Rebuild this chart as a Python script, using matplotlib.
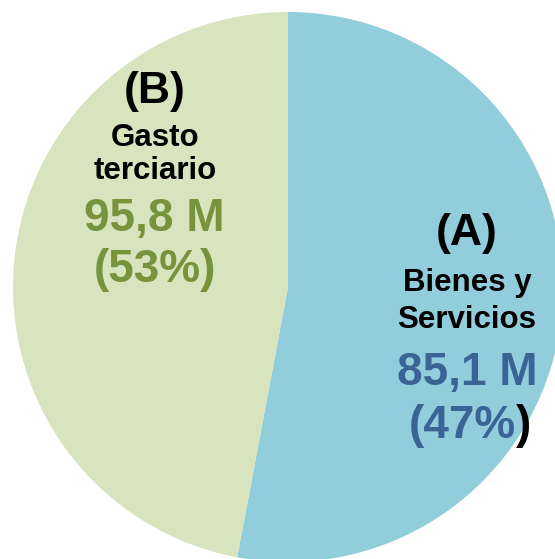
import matplotlib.pyplot as plt

# wedge values as drawn in the picture (blue wedge covers ~53%, green ~47%)
wedge_values = [95.8, 85.1]
wedge_colors = ["#92CDDC", "#D7E4BD"]

# label texts
a_title = "(A)"
a_name = ["Bienes y", "Servicios"]
a_value = "85,1 M"
a_pct = "(47%"
b_title = "(B)"
b_name = ["Gasto", "terciario"]
b_value = "95,8 M"
b_pct = "(53%)"

W, H = 555, 559
fig = plt.figure(figsize=(W / 100, H / 100), dpi=100)
ax = fig.add_axes([0, 0, 1, 1])

# pie centre and radius in pixel units
cx, cy, r = 288, H - 287, 275
ax.pie(wedge_values, colors=wedge_colors, startangle=90, counterclock=False,
       radius=r, center=(cx, cy), frame=True,
       wedgeprops=dict(linewidth=0))
ax.set_xlim(0, W)
ax.set_ylim(0, H)
ax.axis("off")

font = "Liberation Sans"
blue_txt = "#3A6496"
green_txt = "#77933C"


def put(x, y_img, s, size, color="black", ha="center"):
    ax.text(x, H - y_img, s, fontsize=size, fontweight="bold", color=color,
            family=font, ha=ha, va="center")


# (B) side
put(155, 91, b_title, 32)
put(155, 138, b_name[0], 22.5)
put(155, 171, b_name[1], 22.5)
put(154, 219, b_value, 33, green_txt)
put(155, 270, b_pct, 33, green_txt)

# (A) side
put(467, 233, a_title, 32)
put(467, 283, a_name[0], 22.5)
put(467, 320, a_name[1], 22.5)
put(467, 373, a_value, 33, blue_txt)
ax.text(516, H - 426, a_pct, fontsize=33, fontweight="bold", color=blue_txt,
        family=font, ha="right", va="center")
ax.text(516, H - 426, ")", fontsize=33, fontweight="bold", color="black",
        family=font, ha="left", va="center")

fig.savefig("out.png", dpi=100)
